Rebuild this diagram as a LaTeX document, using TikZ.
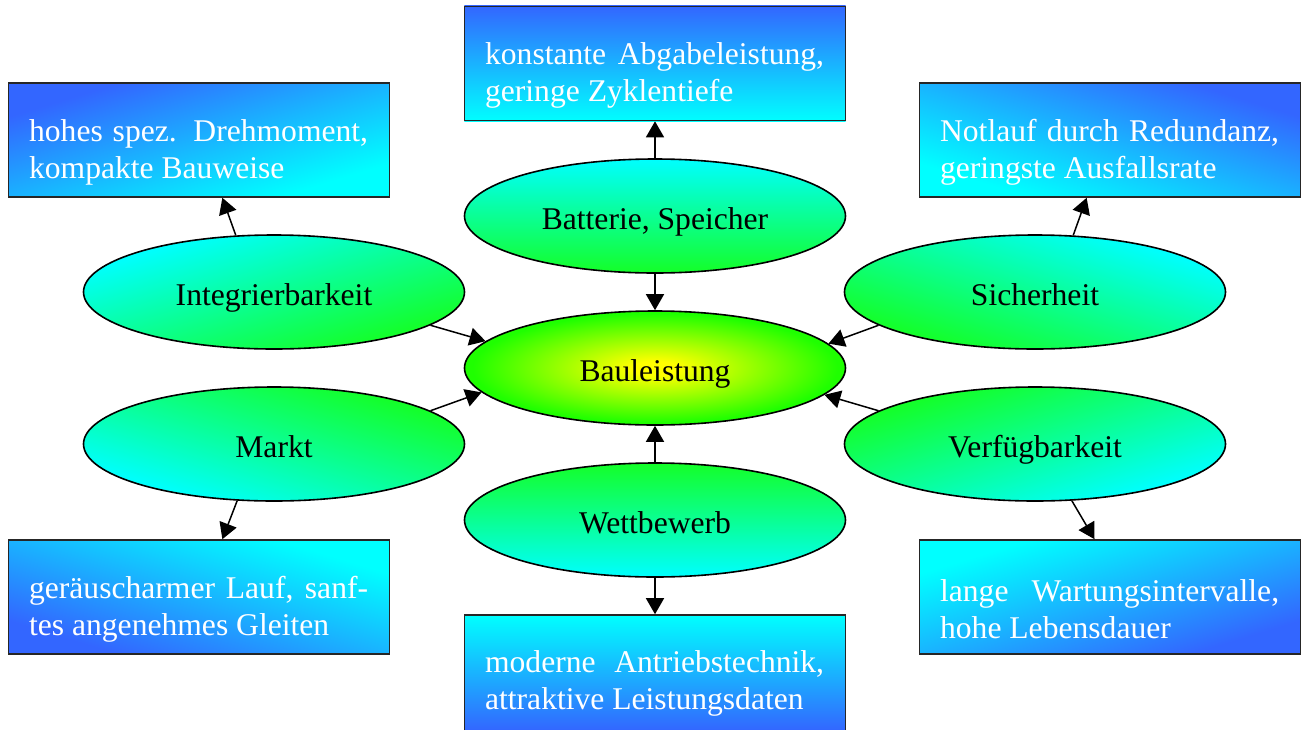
\documentclass[tikz,border=0pt]{standalone}
\usepackage{fontspec}
\setmainfont{Liberation Serif}
\usepackage{tikz}
\usetikzlibrary{shapes.geometric}
\usetikzlibrary{arrows.meta}
\definecolor{boxblue}{RGB}{51,102,255}
\definecolor{boxcyan}{RGB}{0,255,255}
\definecolor{ellgreen}{RGB}{20,255,40}
\pgfdeclareradialshading{bauglow}{\pgfpoint{0bp}{0bp}}{rgb(0bp)=(1,1,0);rgb(3bp)=(1,1,0);rgb(24bp)=(0.12,1,0);rgb(50bp)=(0.12,1,0)}

\begin{document}
\begin{tikzpicture}[x=0.5pt,y=-0.5pt,>={Triangle[length=8pt,width=9pt]},font=\fontsize{15.8}{18.5}\selectfont]
	\tikzstyle{every edge}=[draw,->,line width=0.75pt]
	\tikzstyle{feature}=[ellipse,draw=black,line width=0.8pt,minimum width=190.5pt,minimum height=57pt,inner sep=0pt,text height=13pt,text depth=0pt]
	\tikzstyle{core}=[feature,shading=bauglow]
	\tikzstyle{goal}=[rectangle,draw=black!85,line width=0.8pt,minimum width=190.5pt,minimum height=57pt,inner sep=0pt]
	\tikzstyle{goal text}=[text=white,align=justify,text width=169.5pt,inner sep=0pt,anchor=west]

	% Fix the page size
	\path[use as bounding box] (0,0) rectangle (1302,729);
	\clip (0,0) rectangle (1302,729);

	% Shade the ellipses (stretched so the gradient runs corner to corner)
	\foreach \x/\y/\ang in {655/216/0, 655/520/180, 274/292/45, 274/444/135, 1035/292/-45, 1035/444/-135}
	\shade[transform canvas={shift={(\x,\y)},xscale=3.342},top color=boxcyan,bottom color=ellgreen,shading angle=\ang] (0,0) circle (28.5pt);

	% Shade the boxes
	\foreach \x/\y/\ang in {655/63.5/0, 655/673/180, 199/140/45, 199/597/135, 1110/140/-45, 1110/597/-135}
	\shade[transform canvas={shift={(\x,\y)},xscale=3.296},top color=boxblue,bottom color=boxcyan,shading angle=\ang] (-28.9pt,-28.9pt) rectangle (28.9pt,28.9pt);

	% Draw the centre and the six ellipses round it
	\node[core] (bau) at (655,368) {Bauleistung};
	\node[feature] (bat) at (655,216) {Batterie, Speicher};
	\node[feature] (wett) at (655,520) {Wettbewerb};
	\node[feature] (integ) at (274,292) {Integrierbarkeit};
	\node[feature] (markt) at (274,444) {Markt};
	\node[feature] (sich) at (1035,292) {Sicherheit};
	\node[feature] (verf) at (1035,444) {Verfügbarkeit};

	% Draw the boxes
	\node[goal] (batbox) at (655,63.5) {};
	\node[goal,minimum height=58pt] (wettbox) at (655,673) {};
	\node[goal] (integbox) at (199,140) {};
	\node[goal] (marktbox) at (199,597) {};
	\node[goal] (sichbox) at (1110,140) {};
	\node[goal] (verfbox) at (1110,597) {};

	% Box texts
	\node[goal text] (batbox-t) at ([xshift=10.5pt,yshift=-6pt]batbox.west) {konstante Abgabeleistung,\linebreak geringe Zyklentiefe};
	\node[goal text] (wettbox-t) at ([xshift=10.5pt,yshift=-5pt]wettbox.west) {moderne Antriebstechnik,\linebreak attraktive Leistungsdaten};
	\node[goal text] (integbox-t) at ([xshift=10.5pt,yshift=-6pt]integbox.west) {hohes spez. Drehmoment,\linebreak kompakte Bauweise};
	\node[goal text] (marktbox-t) at ([xshift=10.5pt,yshift=-6pt]marktbox.west) {geräuscharmer Lauf, sanf-\linebreak tes angenehmes Gleiten};
	\node[goal text] (sichbox-t) at ([xshift=10.5pt,yshift=-6pt]sichbox.west) {Notlauf durch Redundanz,\linebreak geringste Ausfallsrate};
	\node[goal text] (verfbox-t) at ([xshift=10.5pt,yshift=-6pt]verfbox.west) {lange Wartungsintervalle,\linebreak hohe Lebensdauer};

	% Connect the middle column
	\path (bat) edge (batbox);
	\path (bat) edge (bau);
	\path (wett) edge (bau);
	\path (wett) edge (wettbox);

	% Connect the side ellipses with their boxes
	\path (integ.124) edge (integbox.292);
	\path (markt.237) edge (marktbox.68);
	\path (sich.56) edge (sichbox.248);
	\path (verf.303) edge (verfbox.105);

	% Connect the side ellipses with the centre
	\foreach \source/\a/\b in {integ/348/171.6, markt/12/188.4, sich/192/8.4, verf/168/351.6}
	\path (\source.\a) edge (bau.\b);
\end{tikzpicture}
\end{document}
